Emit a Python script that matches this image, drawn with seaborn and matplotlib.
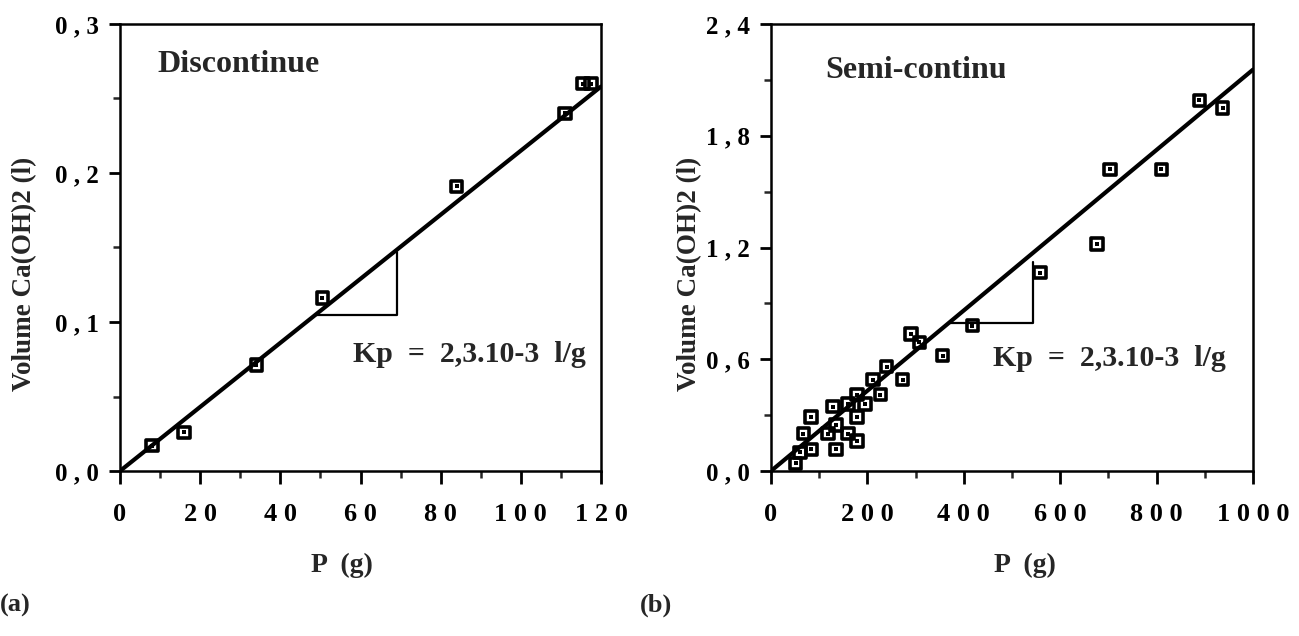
import matplotlib
matplotlib.use("Agg")
import matplotlib.pyplot as plt
import seaborn as sns
from matplotlib.ticker import FixedLocator, MultipleLocator
from matplotlib.transforms import Bbox, TransformedBbox

# ---------------- data ----------------
# (a) Discontinue
pa_x = [8, 16, 34, 50.5, 84, 111, 115.5, 117.5]
pa_y = [0.017, 0.026, 0.071, 0.116, 0.191, 0.240, 0.260, 0.260]
fit_a_x = [0, 120]
fit_a_y = [0, 0.258]
tri_a_x = [49, 69, 69]
tri_a_y = [0.105, 0.105, 0.147]

# (b) Semi-continue
pb_x = [51, 60, 84, 67, 83, 118, 135, 135, 129, 160, 178, 160, 178, 178, 195,
        227, 212, 240, 273, 290, 308, 356, 418, 558, 676, 703, 810, 889, 937]
pb_y = [0.041, 0.10, 0.116, 0.20, 0.29, 0.20, 0.116, 0.247, 0.345, 0.20, 0.16,
        0.36, 0.29, 0.41, 0.36, 0.41, 0.49, 0.56, 0.49, 0.735, 0.69, 0.62, 0.78,
        1.065, 1.22, 1.62, 1.62, 1.99, 1.95]
fit_b_x = [0, 1000]
fit_b_y = [0, 2.155]
tri_b_x = [371, 544, 544]
tri_b_y = [0.793, 0.793, 1.124]

xt_a = [0, 20, 40, 60, 80, 100, 120]
xl_a = ["0", "2 0", "4 0", "6 0", "8 0", "1 0 0", "1 2 0"]
yt_a = [0.0, 0.1, 0.2, 0.3]
yl_a = ["0 , 0", "0 , 1", "0 , 2", "0 , 3"]

xt_b = [0, 200, 400, 600, 800, 1000]
xl_b = ["0", "2 0 0", "4 0 0", "6 0 0", "8 0 0", "1 0 0 0"]
yt_b = [0.0, 0.6, 1.2, 1.8, 2.4]
yl_b = ["0 , 0", "0 , 6", "1 , 2", "1 , 8", "2 , 4"]

title_a = "Discontinue"
title_b = "Semi-continue"
kp_text = "Kp  =  2,3.10-3  l/g"
xlabel = "P  (g)"
ylabel = "Volume Ca(OH)2 (l)"

# ---------------- style ----------------
sns.set_style("ticks")
plt.rcParams['font.family'] = ['Liberation Serif', 'DejaVu Serif']
plt.rcParams['font.weight'] = 'bold'
plt.rcParams['axes.labelweight'] = 'bold'
FS = 19

W, H = 1299, 636
fig = plt.figure(figsize=(W / 100, H / 100), dpi=100)
fig.patch.set_facecolor("white")

ax1 = fig.add_axes([120 / W, 1 - 471 / H, (601 - 120) / W, (471 - 24) / H])
ax2 = fig.add_axes([771 / W, 1 - 471 / H, (1253 - 771) / W, (471 - 24) / H])


def draw(ax, px, py, fx, fy, tx, ty):
    sns.lineplot(x=fx, y=fy, ax=ax, color="black", linewidth=3.0,
                 estimator=None, sort=False, zorder=2)
    sns.lineplot(x=tx, y=ty, ax=ax, color="black", linewidth=1.6,
                 estimator=None, sort=False, zorder=2)
    sns.scatterplot(x=px, y=py, ax=ax, marker="s", s=68, facecolor="none",
                    edgecolor="black", linewidth=2.6, zorder=3)
    sns.scatterplot(x=px, y=py, ax=ax, marker="s", s=5, color="black",
                    linewidth=0, zorder=4)


draw(ax1, pa_x, pa_y, fit_a_x, fit_a_y, tri_a_x, tri_a_y)
draw(ax2, pb_x, pb_y, fit_b_x, fit_b_y, tri_b_x, tri_b_y)

for ax, xt, xl, yt, yl, xmin, ymin in [
        (ax1, xt_a, xl_a, yt_a, yl_a, 10, 0.05),
        (ax2, xt_b, xl_b, yt_b, yl_b, 100, 0.3)]:
    ax.set_xlim(xt[0], xt[-1])
    ax.set_ylim(yt[0], yt[-1])
    ax.xaxis.set_major_locator(FixedLocator(xt))
    ax.set_xticklabels(xl)
    ax.yaxis.set_major_locator(FixedLocator(yt))
    ax.set_yticklabels(yl)
    ax.xaxis.set_minor_locator(MultipleLocator(xmin))
    ax.yaxis.set_minor_locator(MultipleLocator(ymin))
    for s in ax.spines.values():
        s.set_linewidth(1.8)
        s.set_color("black")
        s.set_visible(True)
    ax.tick_params(axis="x", which="major", length=9, width=2.0, direction="out",
                   labelsize=FS, pad=14, colors="black")
    ax.tick_params(axis="x", which="minor", length=5, width=1.8, direction="out")
    ax.tick_params(axis="y", which="major", length=8, width=2.0, direction="out",
                   labelsize=18, pad=7, colors="black")
    ax.tick_params(axis="y", which="minor", length=5, width=1.8, direction="out")
    ax.set_xlabel(xlabel, fontsize=20, fontweight="bold")
    ax.set_ylabel(ylabel, fontsize=19.5, fontweight="bold")
    ax.set_facecolor("white")

ax1.xaxis.set_label_coords(0.4615, -0.183)
ax2.xaxis.set_label_coords(0.527, -0.183)
ax1.yaxis.set_label_coords(-0.173, 0.44)
ax2.yaxis.set_label_coords(-0.142, 0.44)

fig.text(157 / W, 1 - 65 / H, title_a, fontsize=23, fontweight="bold",
         ha="left", va="center")
tb = fig.text(825 / W, 1 - 70 / H, title_b, fontsize=23, fontweight="bold",
              ha="left", va="center")
tb.set_clip_on(True)
tb.set_clip_box(TransformedBbox(Bbox([[0, 0], [1005 / W, 1]]), fig.transFigure))

fig.text(353 / W, 1 - 355 / H, kp_text, fontsize=21.5, fontweight="bold",
         ha="left", va="center")
fig.text(993 / W, 1 - 358 / H, kp_text, fontsize=21.5, fontweight="bold",
         ha="left", va="center")

fig.text(0 / W, 1 - 605 / H, "(a)", fontsize=FS, fontweight="bold",
         ha="left", va="center")
fig.text(640 / W, 1 - 605 / H, "(b)", fontsize=FS, fontweight="bold",
         ha="left", va="center")

fig.savefig("out.png", dpi=100, facecolor="white")
